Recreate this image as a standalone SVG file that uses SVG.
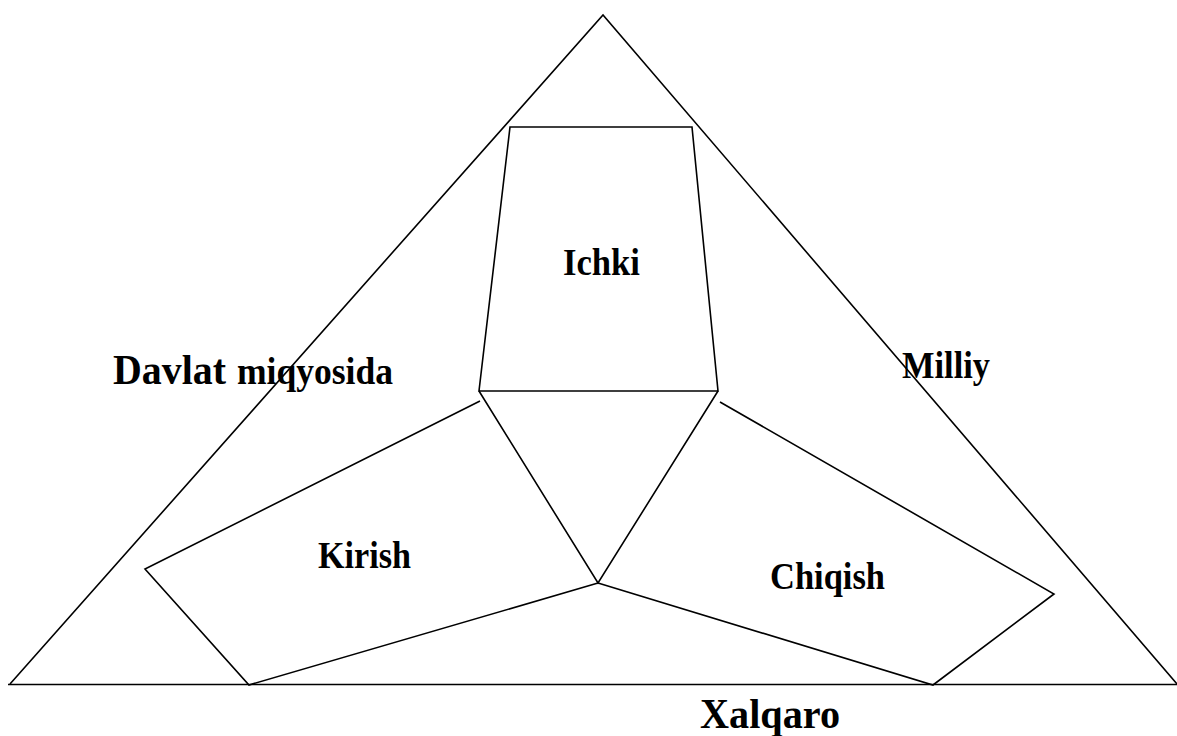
<svg xmlns="http://www.w3.org/2000/svg" width="1177" height="736" viewBox="0 0 1177 736">
<style>
.s{fill:none;stroke:#000;stroke-width:1.6;stroke-linejoin:miter}
.t{font-family:"Liberation Serif","Times New Roman",serif;font-weight:bold;fill:#000}
</style>
<rect width="1177" height="736" fill="#fff"/>
<g id="connectors">
<polyline class="s" points="10,684 603,15 1177,684"/>
<line class="s" x1="8" y1="684.5" x2="1177" y2="684.5"/>
</g>
<g id="node-ichki">
<polygon class="s" points="510,127 692,127 718,391 479,391"/>
<text class="t" x="563" y="275" font-size="38" textLength="77" lengthAdjust="spacingAndGlyphs">Ichki</text>
</g>
<g id="node-center">
<polyline class="s" points="479,391 598,583 718,391"/>
</g>
<g id="node-kirish">
<polyline class="s" points="480,401 145,569 249,685 598,583"/>
<text class="t" x="318" y="568" font-size="37" textLength="93" lengthAdjust="spacingAndGlyphs">Kirish</text>
</g>
<g id="node-chiqish">
<polyline class="s" points="720,402 1054,594 933,685 598,583"/>
<text class="t" x="770" y="589" font-size="37" textLength="115" lengthAdjust="spacingAndGlyphs">Chiqish</text>
</g>
<g id="label-davlat">
<text class="t" x="113" y="384" font-size="43" textLength="113" lengthAdjust="spacingAndGlyphs">Davlat</text>
<text class="t" x="237" y="384" font-size="38" textLength="156" lengthAdjust="spacingAndGlyphs">miqyosida</text>
</g>
<g id="label-milliy">
<text class="t" x="902" y="378" font-size="38" textLength="88" lengthAdjust="spacingAndGlyphs">Milliy</text>
</g>
<g id="label-xalqaro">
<text class="t" x="700" y="728" font-size="42" textLength="140" lengthAdjust="spacingAndGlyphs">Xalqaro</text>
</g>
</svg>
